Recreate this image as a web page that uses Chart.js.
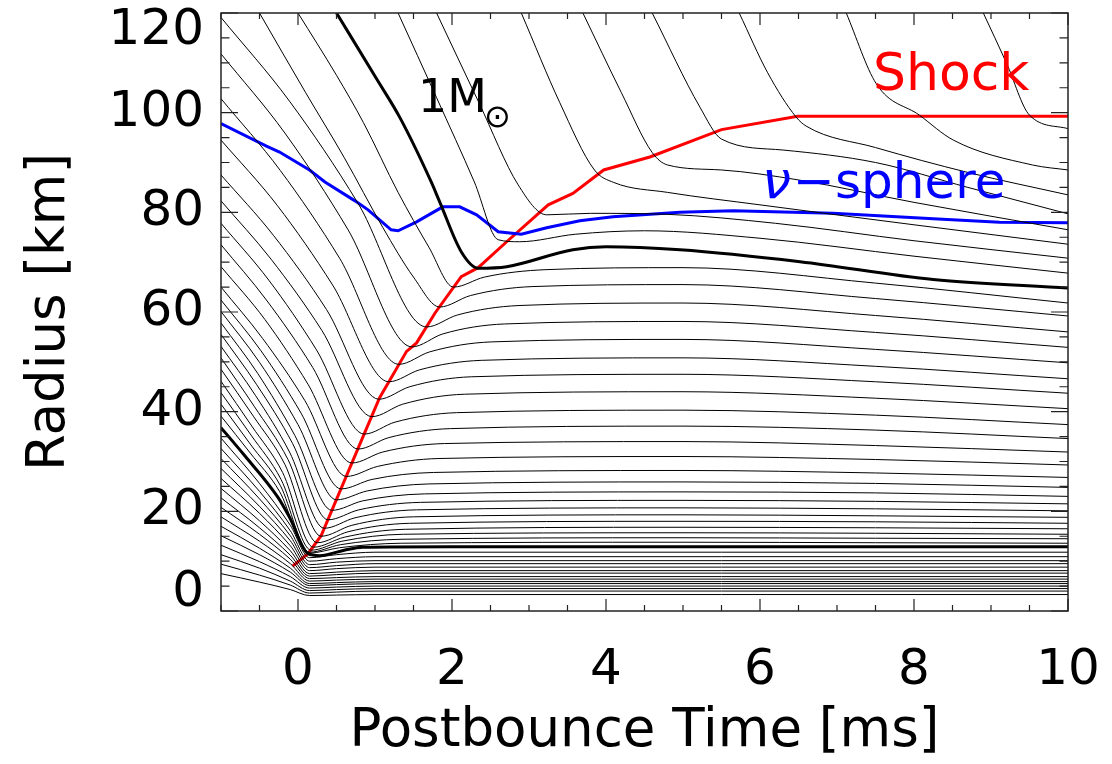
<!DOCTYPE html>
<html><head><meta charset="utf-8">
<script src="https://cdn.jsdelivr.net/npm/chart.js@4/dist/chart.umd.min.js"></script>
<style>html,body{margin:0;padding:0;background:#fff;}canvas{display:block;}</style>
</head><body>
<canvas id="c" width="1112" height="764"></canvas>
<script>
// ---------- tick labels ----------
const xTickValues = [0, 2, 4, 6, 8, 10];
const yTickValues = [0, 20, 40, 60, 80, 100, 120];

// ---------- shock radius (red) ----------
const shockT = [-0.07,0.13,0.30,0.82,1.06,1.41,1.54,1.78,2.12,2.34,2.71,3.25,3.57,3.97,4.57,5.50,6.49,10];
const shockR = [9.0,11.5,15.1,34.1,42.8,52.1,53.8,59.8,67.1,68.9,74.1,81.5,83.8,88.5,91.1,96.6,99.3,99.3];

// ---------- neutrinosphere (blue) ----------
const nuT = [-1,-0.41,-0.24,0.15,0.35,0.74,0.91,1.21,1.30,1.54,1.88,2.10,2.32,2.60,2.90,3.23,3.66,4.09,4.96,5.65,6.95,8.25,9.11,10];
const nuR = [97.8,93.3,92.1,88.5,86.1,82.3,80.5,76.5,76.3,78.1,81.1,81.1,79.5,76.1,75.6,76.9,78.3,79.1,80.0,80.3,79.8,78.7,78.0,77.9];

// ---------- 1 solar mass shell (thick) ----------
const solarT = [0.50,1.02,1.32,1.73,1.84,2.12,2.34,2.71,3.57,4.00,4.96,6.52,8.25,10];
const solarR = [120.0,106.8,99.1,86.1,82.1,72.1,68.8,69.1,72.5,73.1,72.5,70.1,66.5,64.8];

// ---------- inner thick shell ----------
const coreT = [-1,-0.71,-0.26,-0.11,0.13,0.28,0.60,0.84,2,10];
const coreR = [36.8,31.5,22.8,18.8,11.5,11.1,12.2,12.8,12.9,12.9];

// ---------- inner shells (below inner thick), shared time grid ----------
const innerT = [-1,-0.5,-0.1,0.15,0.5,1,10];
const innerR = [
  [7.5,5.8,4.3,3.1,3.2,3.3,3.3],
  [9.4,7.2,5.2,3.6,3.8,4.0,4.0],
  [11.3,8.6,6.0,4.1,4.3,4.5,4.5],
  [13.2,9.9,6.9,4.6,4.8,5.0,5.0],
  [15.1,11.3,7.8,5.1,5.3,5.5,5.5],
  [17.0,12.6,8.6,5.5,5.7,5.9,5.9],
  [18.9,14.0,9.5,6.0,6.2,6.4,6.4],
  [20.8,15.4,10.4,6.5,6.7,6.9,6.9],
  [22.7,16.7,11.2,7.0,7.3,7.6,7.6],
  [24.6,18.1,12.1,7.5,7.8,8.1,8.1],
  [26.6,19.6,13.1,8.1,8.5,8.8,8.8],
  [28.6,21.0,14.1,8.7,9.1,9.5,9.5],
  [30.6,22.5,15.1,9.3,9.8,10.1,10.1],
  [32.6,24.0,16.1,10.0,10.5,10.9,10.9],
  [34.7,25.6,17.2,10.7,11.3,11.8,11.8]
];

// ---------- shells between inner thick and 1 Msun ----------
const midT = [
  [0.00,0.50,0.85,1.30,1.70,2.02,2.42,3.22,5,7.5,10],
  [-0.50,0.10,0.60,1.10,1.50,1.84,2.24,3.04,5,7.5,10],
  [-1,-0.11,0.78,1.67,2.07,2.87,5,7.5,10],
  [-1,-0.17,0.65,1.48,1.88,2.68,5,7.5,10],
  [-1,-0.23,0.54,1.31,1.71,2.51,5,7.5,10],
  [-1,-0.27,0.45,1.18,1.58,2.38,5,7.5,10],
  [-1,-0.32,0.37,1.05,1.45,2.25,5,7.5,10],
  [-1,-0.35,0.31,0.96,1.36,2.16,5,7.5,10],
  [-1,-0.38,0.24,0.86,1.26,2.06,5,7.5,10],
  [-1,-0.41,0.19,0.78,1.18,1.98,5,7.5,10],
  [-1,-0.43,0.13,0.70,1.10,1.90,5,7.5,10],
  [-1,-0.46,0.09,0.63,1.03,1.83,5,7.5,10],
  [-1,-0.48,0.04,0.56,0.96,1.76,5,7.5,10],
  [-1,-0.50,0.00,0.50,0.90,1.70,5,7.5,10],
  [-1,-0.52,-0.04,0.44,0.84,1.64,5,7.5,10],
  [-1,-0.54,-0.07,0.39,0.79,1.59,5,7.5,10],
  [-1,-0.55,-0.11,0.34,0.74,1.54,5,7.5,10],
  [-1,-0.57,-0.13,0.30,0.70,1.50,5,7.5,10],
  [-1,-0.58,-0.17,0.25,0.65,1.45,5,7.5,10],
  [-1,-0.60,-0.20,0.20,0.60,1.40,5,7.5,10],
  [-1,-0.61,-0.22,0.17,0.57,1.37,5,7.5,10],
  [-1,-0.62,-0.23,0.15,0.55,1.35,5,7.5,10],
  [-1,-0.62,-0.24,0.14,0.54,1.34,5,7.5,10]
];
const midR = [
  [120,107.5,98.0,84.0,73.0,65.0,67.0,68.5,68.9,65.8,61.8],
  [120,104.0,91.0,77.0,67.0,61.0,63.3,65.1,65.5,62.7,59.2],
  [119.1,102.3,81.8,57.0,59.4,61.3,61.8,59.3,56.0],
  [111.8,95.9,76.5,53.0,55.6,57.6,58.1,55.9,52.9],
  [102.8,88.4,70.8,49.5,52.0,54.0,54.5,52.5,49.8],
  [94.5,81.4,65.4,46.0,48.4,50.3,50.8,49.1,46.6],
  [87.5,75.4,60.5,42.5,45.0,47.0,47.5,46.0,43.7],
  [82.3,70.6,56.3,39.0,41.5,43.5,44.0,42.7,40.6],
  [77.8,66.4,52.4,35.5,37.9,39.8,40.3,39.3,37.4],
  [73.5,62.4,48.9,32.5,34.8,36.6,37.1,36.3,34.6],
  [69.1,58.5,45.5,29.7,31.9,33.6,34.0,33.2,31.9],
  [65.0,54.7,42.2,27.0,29.0,30.6,31.0,30.4,29.3],
  [62.4,52.2,39.7,24.5,26.4,27.8,28.2,27.7,26.8],
  [60.1,49.9,37.4,22.3,24.1,25.5,25.9,25.6,24.8],
  [57.8,47.6,35.2,20.2,22.1,23.5,23.9,23.7,23.0],
  [55.5,45.5,33.6,18.3,20.3,21.8,22.2,22.0,21.5],
  [53.1,43.2,31.9,16.6,18.7,20.3,20.7,20.5,20.1],
  [50.8,41.1,30.4,15.0,17.2,18.9,19.3,19.1,18.8],
  [48.5,39.1,29.4,13.7,15.9,17.6,18.0,17.9,17.6],
  [46.1,37.1,27.8,12.8,14.8,16.4,16.8,16.7,16.5],
  [43.8,35.3,26.4,12.2,14.0,15.4,15.7,15.6,15.4],
  [41.5,33.5,25.2,11.8,13.3,14.4,14.7,14.6,14.5],
  [39.1,31.7,24.0,11.6,12.7,13.6,13.8,13.7,13.6]
];

// ---------- shells outside 1 Msun ----------
const outT = [
  [1.30,1.80,2.29,2.60,2.88,3.60,4.50,6.00,8.00,10],
  [1.80,2.35,2.86,3.23,3.80,4.80,6.20,8.00,10],
  [2.90,3.40,3.85,4.10,4.80,6.00,8.00,10],
  [3.70,4.20,4.60,4.80,5.50,6.50,8.00,10],
  [4.60,5.22,5.50,6.30,7.50,8.70,10],
  [5.73,6.10,6.47,6.60,7.50,8.70,10],
  [7.12,7.51,8.07,8.51,9.54,10],
  [8.90,9.20,9.50,10]
];
const outR = [
  [120,103.0,86.1,74.5,74.1,75.6,76.3,74.8,71.2,67.8],
  [120,102.0,85.5,79.5,79.8,79.6,77.8,74.3,70.8],
  [120,102.0,88.5,86.0,84.0,81.5,77.5,73.6],
  [120,104.0,92.0,89.5,88.5,86.5,82.0,76.5],
  [120,101.1,94.7,92.5,90.0,85.0,79.7],
  [120,108.0,99.1,97.3,93.0,88.0,83.5],
  [120,105.8,99.5,94.5,89.5,88.5],
  [120,110.0,99.5,96.8]
];

// ---------- build datasets ----------
const FONT = "'DejaVu Sans', 'Noto Sans', sans-serif";
function pts(T, R) { return T.map((t, i) => ({ x: t, y: R[i] })); }
const datasets = [];
function addLine(T, R, color, width, smooth) {
  datasets.push({
    data: pts(T, R), borderColor: color, borderWidth: width, pointRadius: 0,
    showLine: true, fill: false, tension: 0,
    cubicInterpolationMode: smooth ? 'monotone' : 'default'
  });
}
innerR.forEach(R => addLine(innerT, R, '#000', 1, true));
midT.forEach((T, i) => addLine(T, midR[i], '#000', 1, true));
outT.forEach((T, i) => addLine(T, outR[i], '#000', 1, true));
addLine(coreT, coreR, '#000', 3, true);
addLine(solarT, solarR, '#000', 3, true);
addLine(nuT, nuR, '#0000ff', 3, false);
addLine(shockT, shockR, '#ff0000', 3, false);

// ---------- frame, inward ticks, annotations ----------
const framePlugin = {
  id: 'frame',
  afterDatasetsDraw(chart) {
    const { ctx, chartArea: a, scales: { x, y } } = chart;
    ctx.save();
    ctx.strokeStyle = '#222';
    ctx.lineWidth = 1.5;
    ctx.strokeRect(a.left, a.top, a.right - a.left, a.bottom - a.top);
    ctx.lineWidth = 1.2;
    ctx.beginPath();
    for (let k = -2; k <= 20; k++) {
      const v = k / 2;
      const px = x.getPixelForValue(v);
      const len = (k % 4 === 0) ? 12 : 6;
      ctx.moveTo(px, a.bottom); ctx.lineTo(px, a.bottom - len);
      ctx.moveTo(px, a.top); ctx.lineTo(px, a.top + len);
    }
    for (let v = 0; v <= 120; v += 5) {
      const py = y.getPixelForValue(v);
      const len = (v % 20 === 0) ? 17 : 8.5;
      ctx.moveTo(a.left, py); ctx.lineTo(a.left + len, py);
      ctx.moveTo(a.right, py); ctx.lineTo(a.right - len, py);
    }
    ctx.stroke();

    // annotations
    ctx.textBaseline = 'alphabetic';
    ctx.textAlign = 'left';
    ctx.fillStyle = '#ff0000';
    ctx.font = '52px ' + FONT;
    ctx.fillText('Shock', 873, 90);

    ctx.fillStyle = '#0000ff';
    ctx.font = 'italic 52px ' + FONT;
    ctx.fillText('\u03BD', 762, 198);
    const wNu = ctx.measureText('\u03BD').width;
    ctx.font = '50px ' + FONT;
    ctx.fillText('\u2212sphere', 762 + wNu + 2, 198);

    ctx.fillStyle = '#000';
    ctx.font = '46px ' + FONT;
    ctx.fillText('1M', 418, 112);
    const w1M = ctx.measureText('1M').width;
    ctx.font = '32px ' + FONT;
    ctx.fillText('\u2299', 418 + w1M - 3, 127);
    ctx.restore();
  }
};

new Chart(document.getElementById('c'), {
  type: 'scatter',
  data: { datasets },
  options: {
    responsive: false,
    animation: false,
    layout: { padding: { top: 13, right: 44, left: 0, bottom: 0 } },
    plugins: { legend: { display: false }, tooltip: { enabled: false } },
    scales: {
      x: {
        type: 'linear', min: -1, max: 10,
        grid: { display: false, drawTicks: false },
        border: { display: false },
        afterBuildTicks: s => { s.ticks = xTickValues.map(v => ({ value: v })); },
        afterFit: s => { s.height = 153; s.paddingLeft = 0; s.paddingRight = 0; },
        ticks: { color: '#000', font: { family: FONT, size: 50 }, padding: 30, maxRotation: 0, autoSkip: false },
        title: { display: true, text: 'Postbounce Time [ms]', color: '#000', font: { family: FONT, size: 53 }, padding: { top: 0, bottom: 0 } }
      },
      y: {
        type: 'linear', min: 0, max: 120,
        grid: { display: false, drawTicks: false },
        border: { display: false },
        afterBuildTicks: s => { s.ticks = yTickValues.map(v => ({ value: v })); },
        afterFit: s => { s.width = 221; s.paddingTop = 0; s.paddingBottom = 0; },
        ticks: {
          color: '#000', font: { family: FONT, size: 50, lineHeight: '36px' }, padding: 17, autoSkip: false,
          callback: v => v === 0 ? ['0', ''] : (v === 120 ? ['', '120'] : String(v))
        },
        title: { display: true, text: 'Radius [km]', color: '#000', font: { family: FONT, size: 53 }, padding: { top: 18, bottom: 0 } }
      }
    }
  },
  plugins: [framePlugin]
});
</script>
</body></html>
